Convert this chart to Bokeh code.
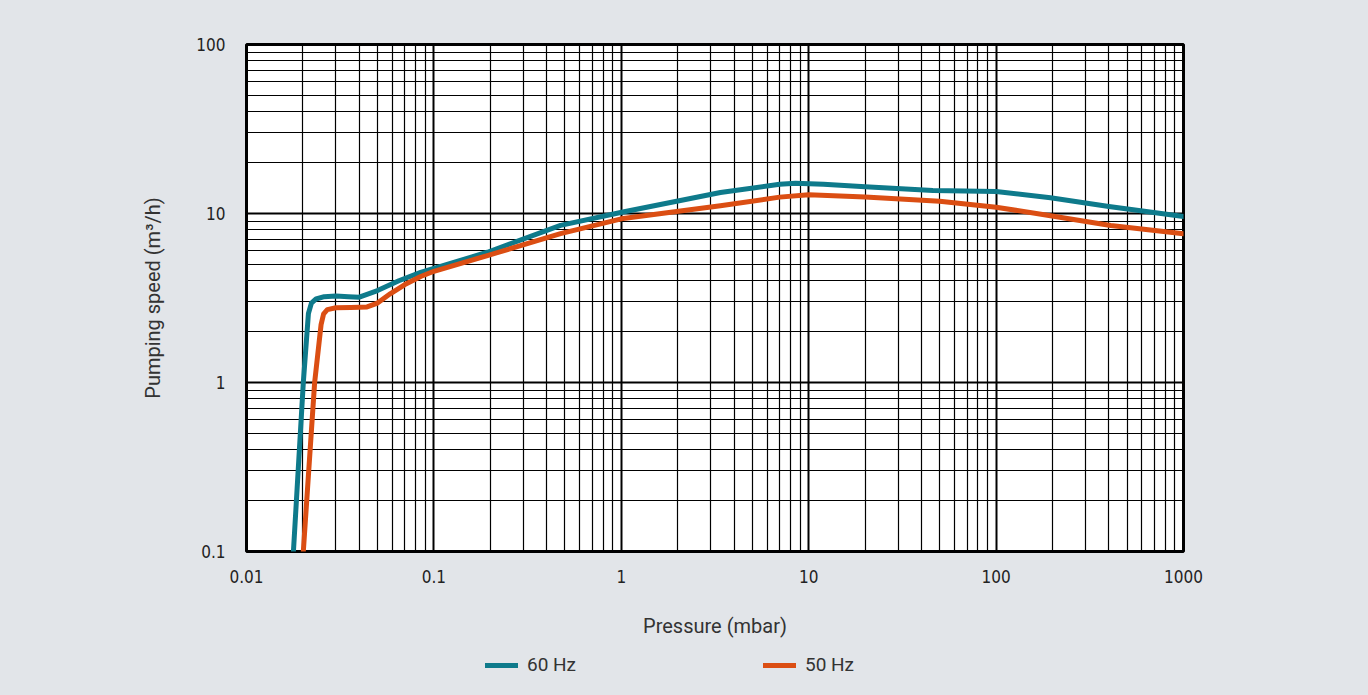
from bokeh.plotting import figure
from bokeh.layouts import column
from bokeh.models import FixedTicker, CustomJSTickFormatter, Legend, LegendItem, Range1d, ColumnDataSource
from bokeh.embed import file_html
from bokeh.resources import INLINE

# ---- data ----
p60_x = [0.0178, 0.0201, 0.0214, 0.0222, 0.0235, 0.026, 0.030, 0.035, 0.040, 0.050, 0.065, 0.085,
         0.1, 0.193, 0.474, 1.02, 3.38, 7.0, 8.5, 12, 20, 46, 100, 195, 400, 1000]
p60_y = [0.1, 1.0, 2.56, 2.95, 3.12, 3.22, 3.25, 3.22, 3.2, 3.5, 4.0, 4.48,
         4.73, 5.9, 8.5, 10.2, 13.3, 14.9, 15.1, 14.9, 14.4, 13.7, 13.5, 12.4, 11.0, 9.6]

p50_x = [0.0201, 0.0231, 0.0250, 0.0258, 0.027, 0.030, 0.036, 0.044, 0.050, 0.0587, 0.070, 0.085,
         0.1, 0.193, 0.474, 1.0, 3.38, 7.0, 10, 20, 50, 100, 195, 409, 1000]
p50_y = [0.1, 1.0, 2.2, 2.55, 2.7, 2.77, 2.78, 2.8, 2.95, 3.36, 3.8, 4.24,
         4.55, 5.64, 7.6, 9.3, 11.1, 12.5, 12.9, 12.5, 11.8, 10.9, 9.7, 8.5, 7.6]

x_major = [0.01, 0.1, 1, 10, 100, 1000]
y_major = [0.1, 1, 10, 100]
series_labels = ["60 Hz", "50 Hz"]
series_colors = ["#0e7a8b", "#db4e13"]

def minors(majors):
    out = []
    for m in majors[:-1]:
        out += [m * k for k in range(2, 10)]
    return out

BG = "#e2e5e9"
TICK_FONT = "'DejaVu Sans Condensed', 'Roboto', sans-serif"
LABEL_FONT = "Roboto"

src60 = ColumnDataSource(dict(x=p60_x, y=p60_y))
src50 = ColumnDataSource(dict(x=p50_x, y=p50_y))

p = figure(x_axis_type="log", y_axis_type="log",
           x_range=(0.01, 1000), y_range=(0.1, 100),
           frame_width=937, frame_height=507,
           min_border_left=246, min_border_right=185, min_border_top=44, min_border_bottom=94,
           output_backend="svg", toolbar_location=None,
           background_fill_color="white", border_fill_color=BG)

p.outline_line_color = "black"
p.outline_line_width = 3

p.xaxis.ticker = FixedTicker(ticks=x_major, minor_ticks=minors(x_major))
p.yaxis.ticker = FixedTicker(ticks=y_major, minor_ticks=minors(y_major))
fmt = CustomJSTickFormatter(code="return Number(tick.toPrecision(3)).toString();")
p.xaxis.formatter = fmt
p.yaxis.formatter = fmt

for ax in (p.xaxis, p.yaxis):
    ax.axis_line_color = None
    ax.major_tick_line_color = None
    ax.minor_tick_line_color = None
    ax.major_label_text_font = TICK_FONT
    ax.major_label_text_font_size = "17px"
    ax.major_label_text_color = "#222222"
    ax.axis_label_text_font = LABEL_FONT
    ax.axis_label_text_font_size = "20px"
    ax.axis_label_text_font_style = "normal"
    ax.axis_label_text_color = "#333333"

p.xaxis.axis_label = "Pressure (mbar)"
p.yaxis.axis_label = "Pumping speed (m³/h)"
p.xaxis.major_label_standoff = 12
p.yaxis.major_label_standoff = 15
p.xaxis.axis_label_standoff = 28
p.yaxis.axis_label_standoff = 28

for g in (p.xgrid, p.ygrid):
    g.grid_line_color = "black"
    g.grid_line_width = 2
    g.minor_grid_line_color = "black"
    g.minor_grid_line_width = 1.2

line_kw = dict(line_width=5, line_join="round", line_cap="round")
p.line("x", "y", source=src60, line_color=series_colors[0], **line_kw)
p.line("x", "y", source=src50, line_color=series_colors[1], **line_kw)

# legend strip under the chart (its data lies outside the strip's ranges, only the legend shows)
leg = figure(width=1368, height=50, x_range=Range1d(1e6, 2e6), y_range=Range1d(1e6, 2e6),
             x_axis_location=None, y_axis_location=None,
             min_border_left=0, min_border_right=0, min_border_top=0, min_border_bottom=0,
             output_backend="svg", toolbar_location=None,
             background_fill_color=BG, border_fill_color=BG, outline_line_color=None)
leg.xgrid.visible = False
leg.ygrid.visible = False
l60 = leg.line("x", "y", source=src60, line_color=series_colors[0], **line_kw)
l50 = leg.line("x", "y", source=src50, line_color=series_colors[1], **line_kw)

legend = Legend(items=[LegendItem(label=series_labels[0], renderers=[l60]),
                       LegendItem(label=series_labels[1], renderers=[l50])],
                orientation="horizontal", location=(239, 19),
                background_fill_alpha=0, border_line_color=None,
                label_text_font=LABEL_FONT, label_text_font_size="19px", label_text_color="#333333",
                glyph_width=33, glyph_height=20, label_standoff=9,
                label_width=60, spacing=176,
                padding=0, margin=0)
leg.add_layout(legend, "center")

layout = column(p, leg, spacing=0)

html = file_html(layout, INLINE)
html = html.replace("<head>", "<head><style>html, body { background: %s; }</style>" % BG, 1)
open("out.html", "w").write(html)
